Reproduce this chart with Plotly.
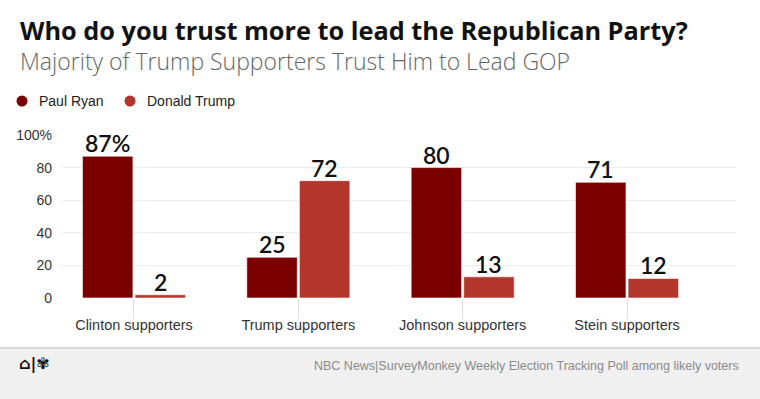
import plotly.graph_objects as go

categories = ["Clinton supporters", "Trump supporters", "Johnson supporters", "Stein supporters"]
ryan = [87, 25, 80, 71]
trump = [2, 72, 13, 12]
series_names = ["Paul Ryan", "Donald Trump"]
colors = ["#7b0000", "#b3362c"]
y_ticks = [0, 20, 40, 60, 80, 100]
y_tick_labels = ["0", "20", "40", "60", "80", "100%"]

title = "Who do you trust more to lead the Republican Party?"
subtitle = "Majority of Trump Supporters Trust Him to Lead GOP"
source = "NBC News|SurveyMonkey Weekly Election Tracking Poll among likely voters"

W, H = 760, 399
L, R, T, B = 62, 24, 135, 101
PW, PH = W - L - R, H - T - B
BARGAP, GROUPGAP = 0.36, 0.04


def px(xp):
    return (xp - L) / PW


def py(yp):
    return (H - B - yp) / PH


def labels(vals, first_pct):
    out = []
    for i, v in enumerate(vals):
        out.append(f"{v}%" if (first_pct and i == 0) else f"{v}")
    return out


fig = go.Figure()
annotations = []
slot = (1 - BARGAP) / 2
for k, (name, vals, col, pct) in enumerate([(series_names[0], ryan, colors[0], True),
                                            (series_names[1], trump, colors[1], False)]):
    fig.add_trace(go.Bar(
        x=categories, y=vals, name=name, marker_color=col,
        marker_line=dict(color="rgba(255,255,255,0.6)", width=1),
        showlegend=False, hoverinfo="skip",
    ))
    offset = (k - 0.5) * slot
    for i, (v, t) in enumerate(zip(vals, labels(vals, pct))):
        annotations.append(dict(
            x=i + offset, y=v, xref="x", yref="y", text=t, showarrow=False,
            xanchor="center", yanchor="bottom", yshift=-3,
            font=dict(family="Lato", size=23, color="#111", weight=600)))

fig.update_layout(
    width=W, height=H,
    paper_bgcolor="white", plot_bgcolor="white",
    margin=dict(l=L, r=R, t=T, b=B),
    barmode="group", bargap=BARGAP, bargroupgap=GROUPGAP,
    showlegend=False,
    font=dict(family="Liberation Sans", color="#333"),
)
fig.update_xaxes(
    range=[-0.438, 3.663], showgrid=False, zeroline=False, showline=False,
    ticks="outside", ticklen=20, tickcolor="#dddddd", tickwidth=1,
    ticklabelstandoff=-6,
    tickfont=dict(family="Liberation Sans", size=14.5, color="#333"),
)
fig.update_yaxes(
    range=[0, 100], tickvals=y_ticks, ticktext=y_tick_labels,
    showgrid=True, gridcolor="#ececec", gridwidth=1, zeroline=False,
    showline=False, ticks="", ticklabelstandoff=9,
    tickfont=dict(family="Liberation Sans", size=14, color="#333"),
)

shapes = [
    # footer band
    dict(type="rect", xref="paper", yref="paper",
         x0=px(0), x1=px(W), y0=py(H), y1=py(348),
         fillcolor="#f0f0f0", line=dict(width=0), layer="below"),
    dict(type="line", xref="paper", yref="paper",
         x0=px(0), x1=px(W), y0=py(348), y1=py(348),
         line=dict(color="#d8d8d8", width=2)),
]

annotations += [
    dict(text=title, xref="paper", yref="paper",
         x=px(18), y=py(30), xanchor="left", yanchor="middle", showarrow=False,
         font=dict(family="Open Sans", size=25.3, color="#111", weight=700)),
    dict(text=subtitle, xref="paper", yref="paper",
         x=px(18), y=py(61), xanchor="left", yanchor="middle", showarrow=False,
         font=dict(family="Open Sans", size=23, color="#666", weight=300)),
    dict(text=source, xref="paper", yref="paper",
         x=px(741), y=py(366), xanchor="right", yanchor="middle", showarrow=False,
         font=dict(family="Liberation Sans", size=12.5, color="#8a8a8a")),
    dict(text="<b>⌂|✾</b>", xref="paper", yref="paper",
         x=px(17), y=py(364), xanchor="left", yanchor="middle", showarrow=False,
         font=dict(family="DejaVu Sans", size=16, color="#111")),
]

# manual legend (circle markers + labels)
legend_x = [22, 130]
for name, col, lx in zip(series_names, colors, legend_x):
    r = 5.5
    shapes.append(dict(type="circle", xref="paper", yref="paper",
                       x0=px(lx - r), x1=px(lx + r), y0=py(101 + r), y1=py(101 - r),
                       fillcolor=col, line=dict(width=0)))
    annotations.append(dict(text=name, xref="paper", yref="paper",
                            x=px(lx + 15), y=py(101), xanchor="left", yanchor="middle",
                            showarrow=False,
                            font=dict(family="Liberation Sans", size=14, color="#222")))

fig.update_layout(shapes=shapes, annotations=annotations)

fig.write_html("out.html", config={"displayModeBar": False},
               post_script="document.body.style.margin='0';")
